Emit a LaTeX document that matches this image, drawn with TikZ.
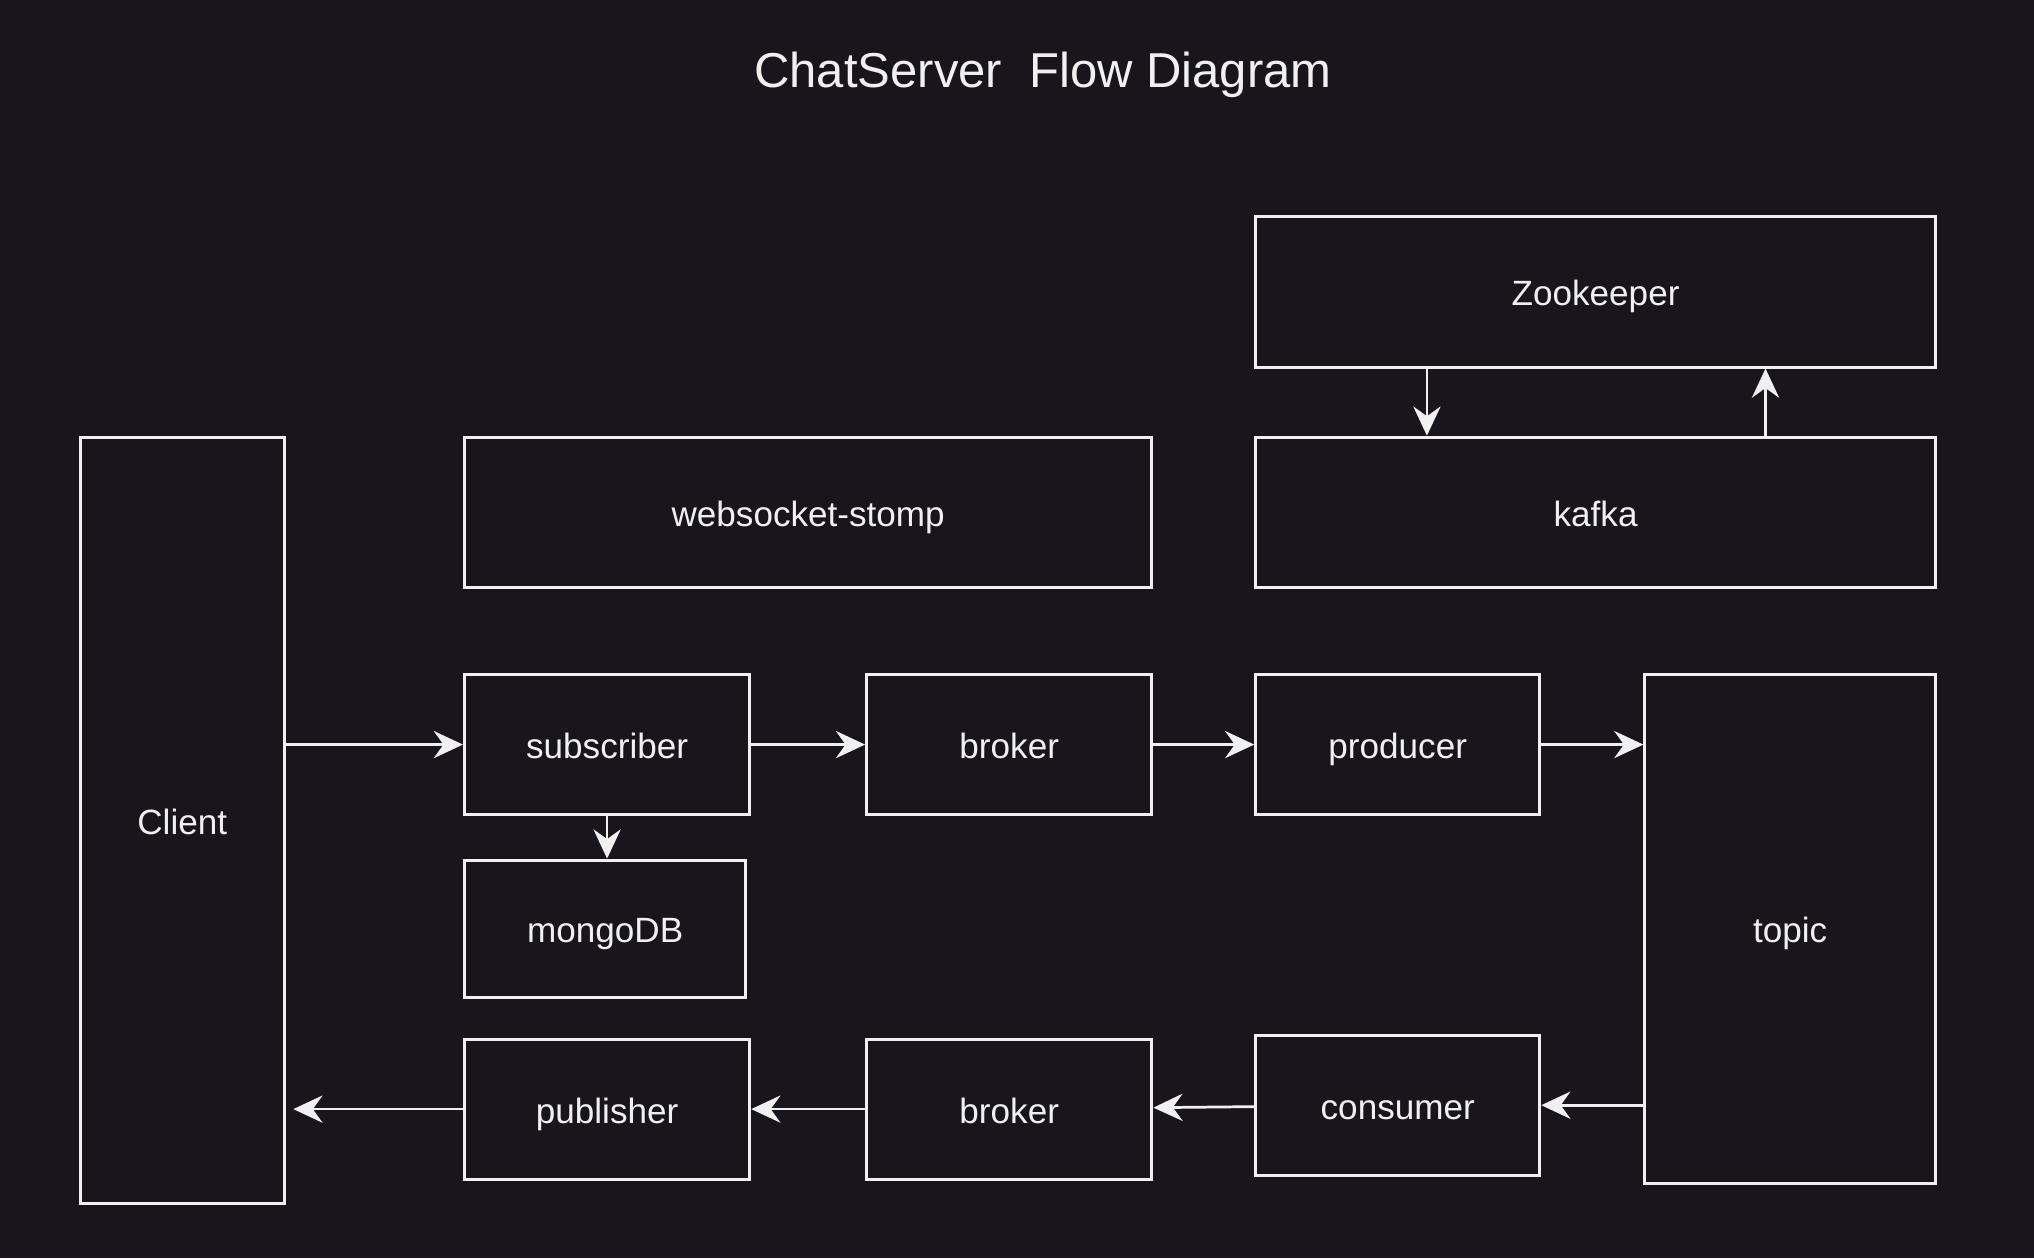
\documentclass[tikz,border=0pt]{standalone}
\usepackage{fontspec}
\setmainfont{Liberation Sans}
\usepackage{tikz}
\usetikzlibrary{arrows.meta,positioning}
\usepackage{xcolor}
\definecolor{chbg}{RGB}{24,22,28}
\definecolor{chline}{RGB}{240,240,242}
\tikzstyle{block} = [rectangle, minimum width=4.4cm, minimum height=2.16cm, text centered, text height=12.4pt, text depth=0pt, draw=chline, line width=1.3pt, text=chline, font=\fontsize{15.4}{18}\selectfont]
\tikzstyle{wideblock} = [block, minimum width=10.48cm, minimum height=2.32cm]
\tikzstyle{arrow} = [line width=1.2pt, -{Stealth[length=0.45cm,width=0.42cm,inset=0.15cm]}, color=chline]

\begin{document}
\begin{tikzpicture}
\fill[chbg] (0,0) rectangle (31.36,19.4);
\useasboundingbox (0,0) rectangle (31.36,19.4);

% Title
\node[text=chline, font=\fontsize{21.5}{26}\selectfont] (title) at (16.08,18.24) {ChatServer\ \ Flow Diagram};

% Zookeeper, kafka and stomp
\node[wideblock] (zoo) at (24.6,14.9) {Zookeeper};
\node[wideblock] (kafka) at (24.6,11.5) {kafka};
\node[wideblock, minimum width=10.6cm] (stomp) at (12.46,11.5) {websocket-stomp};

% Client
\node[block, minimum width=3.14cm, minimum height=11.82cm] (client) at (2.81,6.75) {Client};

% Upper row
\node[block] (sub) at (9.36,7.92) {subscriber};
\node[block] (broker1) at (15.56,7.92) {broker};
\node[block, minimum width=4.38cm] (producer) at (21.55,7.92) {producer};
\node[block, minimum width=4.48cm, minimum height=7.84cm] (topic) at (27.6,5.08) {topic};
\node[block, minimum width=4.34cm, minimum height=2.12cm] (mongo) at (9.33,5.08) {mongoDB};

% Lower row
\node[block] (pub) at (9.36,2.3) {publisher};
\node[block] (broker2) at (15.56,2.3) {broker};
\node[block, minimum width=4.38cm] (consumer) at (21.55,2.36) {consumer};

% Arrows
\draw[arrow] ([xshift=-2.6cm]zoo.south) -- ([xshift=-2.6cm]kafka.north);
\draw[arrow] ([xshift=2.62cm]kafka.north) -- ([xshift=2.62cm]zoo.south);
\draw[arrow] (client.east |- sub) -- (sub.west);
\draw[arrow] (sub) -- (broker1);
\draw[arrow] (broker1) -- (producer);
\draw[arrow] (producer.east) -- (producer.east -| topic.west);
\draw[arrow] (sub.south) -- (sub.south |- mongo.north);
\draw[arrow] (topic.west |- consumer) -- (consumer);
\draw[arrow] (consumer) -- (broker2);
\draw[arrow] (broker2) -- (pub);
\draw[arrow, shorten >=0.12cm] (pub.west) -- (pub.west -| client.east);
\end{tikzpicture}
\end{document}
